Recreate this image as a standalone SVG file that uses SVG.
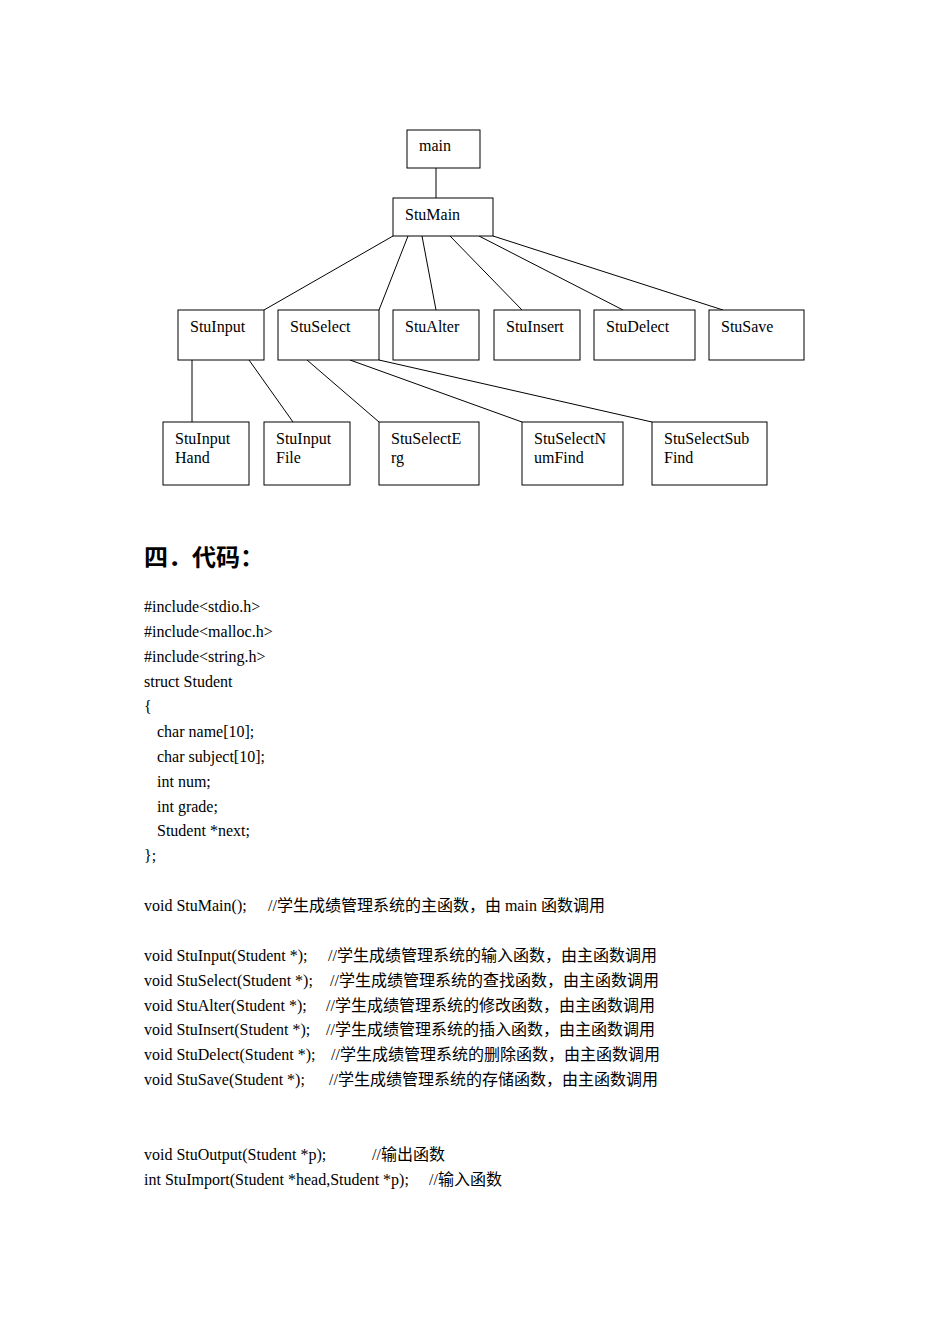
<svg xmlns="http://www.w3.org/2000/svg" width="950" height="1344" viewBox="0 0 950 1344">
<style>
.b{fill:#fff;stroke:#000;stroke-width:1}
.t{font-family:"Liberation Serif","Noto Sans CJK SC",serif;font-size:16px;fill:#000}
.c{stroke:#000;stroke-width:1;fill:none}
</style>
<rect width="950" height="1344" fill="#fff"/>
<g id="connectors" class="c">
<line x1="436" y1="168" x2="436" y2="198"/>
<line x1="393" y1="236" x2="264" y2="310"/>
<line x1="408" y1="236" x2="379" y2="310"/>
<line x1="422" y1="236" x2="436" y2="310"/>
<line x1="450" y1="236" x2="522" y2="310"/>
<line x1="479" y1="236" x2="623" y2="310"/>
<line x1="493" y1="236" x2="723" y2="310"/>
<line x1="192" y1="360" x2="192" y2="422"/>
<line x1="249" y1="360" x2="293" y2="422"/>
<line x1="307" y1="360" x2="379" y2="422"/>
<line x1="350" y1="360" x2="522" y2="422"/>
<line x1="379" y1="360" x2="652" y2="422"/>
</g>
<g id="main"><rect class="b" x="407" y="130" width="73" height="38"/><text class="t" x="419" y="151">main</text></g>
<g id="StuMain"><rect class="b" x="393" y="198" width="100" height="38"/><text class="t" x="405" y="220">StuMain</text></g>
<g id="StuInput"><rect class="b" x="178" y="310" width="86" height="50"/><text class="t" x="190" y="332">StuInput</text></g>
<g id="StuSelect"><rect class="b" x="278" y="310" width="101" height="50"/><text class="t" x="290" y="332">StuSelect</text></g>
<g id="StuAlter"><rect class="b" x="393" y="310" width="86" height="50"/><text class="t" x="405" y="332">StuAlter</text></g>
<g id="StuInsert"><rect class="b" x="494" y="310" width="86" height="50"/><text class="t" x="506" y="332">StuInsert</text></g>
<g id="StuDelect"><rect class="b" x="594" y="310" width="101" height="50"/><text class="t" x="606" y="332">StuDelect</text></g>
<g id="StuSave"><rect class="b" x="709" y="310" width="95" height="50"/><text class="t" x="721" y="332">StuSave</text></g>
<g id="StuInputHand"><rect class="b" x="163" y="422" width="86" height="63"/><text class="t" x="175" y="444">StuInput</text><text class="t" x="175" y="463">Hand</text></g>
<g id="StuInputFile"><rect class="b" x="264" y="422" width="86" height="63"/><text class="t" x="276" y="444">StuInput</text><text class="t" x="276" y="463">File</text></g>
<g id="StuSelectErg"><rect class="b" x="379" y="422" width="100" height="63"/><text class="t" x="391" y="444">StuSelectE</text><text class="t" x="391" y="463">rg</text></g>
<g id="StuSelectNumFind"><rect class="b" x="522" y="422" width="101" height="63"/><text class="t" x="534" y="444">StuSelectN</text><text class="t" x="534" y="463">umFind</text></g>
<g id="StuSelectSubFind"><rect class="b" x="652" y="422" width="115" height="63"/><text class="t" x="664" y="444">StuSelectSub</text><text class="t" x="664" y="463">Find</text></g>
<text x="144" y="566" style="font-family:'Noto Sans CJK SC',sans-serif;font-size:24px;font-weight:bold">四．代码：</text>
<g class="t" style="white-space:pre">
<text class="t" x="144" y="612">#include&lt;stdio.h&gt;</text>
<text class="t" x="144" y="637">#include&lt;malloc.h&gt;</text>
<text class="t" x="144" y="662">#include&lt;string.h&gt;</text>
<text class="t" x="144" y="687">struct Student</text>
<text class="t" x="144" y="712">{</text>
<text class="t" x="157" y="737">char name[10];</text>
<text class="t" x="157" y="762">char subject[10];</text>
<text class="t" x="157" y="787">int num;</text>
<text class="t" x="157" y="812">int grade;</text>
<text class="t" x="157" y="836">Student *next;</text>
<text class="t" x="144" y="861">};</text>
<text class="t" x="144" y="911">void StuMain();</text><text class="t" x="268" y="911">//学生成绩管理系统的主函数，由 main 函数调用</text>
<text class="t" x="144" y="961">void StuInput(Student *);</text><text class="t" x="328" y="961">//学生成绩管理系统的输入函数，由主函数调用</text>
<text class="t" x="144" y="986">void StuSelect(Student *);</text><text class="t" x="330" y="986">//学生成绩管理系统的查找函数，由主函数调用</text>
<text class="t" x="144" y="1011">void StuAlter(Student *);</text><text class="t" x="326" y="1011">//学生成绩管理系统的修改函数，由主函数调用</text>
<text class="t" x="144" y="1035">void StuInsert(Student *);</text><text class="t" x="326" y="1035">//学生成绩管理系统的插入函数，由主函数调用</text>
<text class="t" x="144" y="1060">void StuDelect(Student *);</text><text class="t" x="331" y="1060">//学生成绩管理系统的删除函数，由主函数调用</text>
<text class="t" x="144" y="1085">void StuSave(Student *);</text><text class="t" x="329" y="1085">//学生成绩管理系统的存储函数，由主函数调用</text>
<text class="t" x="144" y="1160">void StuOutput(Student *p);</text><text class="t" x="372" y="1160">//输出函数</text>
<text class="t" x="144" y="1185">int StuImport(Student *head,Student *p);</text><text class="t" x="429" y="1185">//输入函数</text>
</g>
</svg>
